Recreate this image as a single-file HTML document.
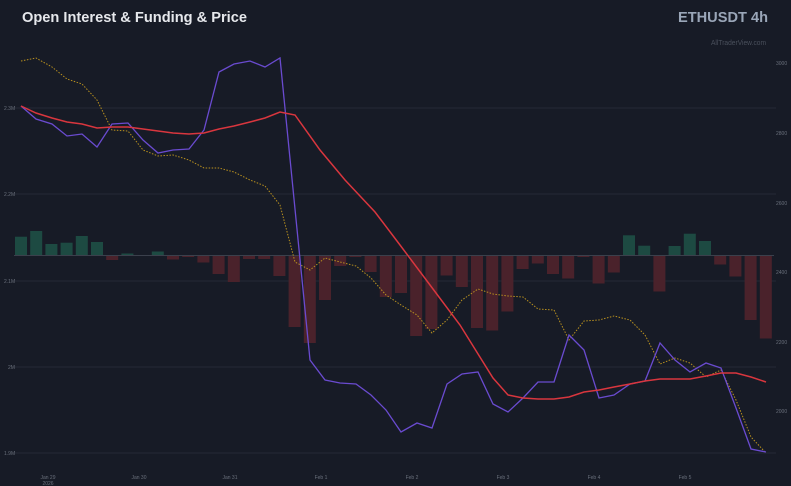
<!DOCTYPE html>
<html><head><meta charset="utf-8"><style>
html,body{margin:0;padding:0;background:#171b26;}
svg{display:block;font-family:"Liberation Sans",sans-serif;}
</style></head><body>
<svg width="791" height="486" viewBox="0 0 791 486" xmlns="http://www.w3.org/2000/svg">
<rect width="791" height="486" fill="#171b26"/>
<text x="22" y="22" font-size="15" font-weight="bold" fill="#e6e8ec" textLength="225" lengthAdjust="spacingAndGlyphs">Open Interest &amp; Funding &amp; Price</text>
<text x="678" y="22" font-size="15" font-weight="bold" fill="#9aa6b8" textLength="90" lengthAdjust="spacingAndGlyphs">ETHUSDT 4h</text>
<text x="711" y="45" font-size="7" fill="#4a505c" textLength="55" lengthAdjust="spacingAndGlyphs">AllTraderView.com</text>
<g stroke="#252a35" stroke-width="1">
<line x1="14" y1="108" x2="776" y2="108"/><line x1="14" y1="194" x2="776" y2="194"/>
<line x1="14" y1="281" x2="776" y2="281"/><line x1="14" y1="367" x2="776" y2="367"/>
<line x1="14" y1="453" x2="776" y2="453"/>
</g>
<g font-size="5" fill="#6a707c">
<text x="4" y="110">2.3M</text><text x="4" y="196">2.2M</text><text x="4" y="283">2.1M</text>
<text x="8" y="369">2M</text><text x="4" y="455">1.9M</text>
<text x="776" y="65">3000</text><text x="776" y="135">2800</text><text x="776" y="205">2600</text>
<text x="776" y="274">2400</text><text x="776" y="344">2200</text><text x="776" y="413">2000</text>
</g>
<g font-size="5" fill="#6a707c" text-anchor="middle">
<text x="48" y="479">Jan 29</text><text x="48" y="485">2026</text>
<text x="139" y="479">Jan 30</text><text x="230" y="479">Jan 31</text><text x="321" y="479">Feb 1</text>
<text x="412" y="479">Feb 2</text><text x="503" y="479">Feb 3</text><text x="594" y="479">Feb 4</text><text x="685" y="479">Feb 5</text>
</g>
<g fill="#1d4a42">
<rect x="15" y="236.7" width="12" height="18.8"/><rect x="30.2" y="231" width="12" height="24.5"/>
<rect x="45.4" y="244" width="12" height="11.5"/><rect x="60.6" y="242.7" width="12" height="12.8"/>
<rect x="75.8" y="236" width="12" height="19.5"/><rect x="91" y="242" width="12" height="13.5"/>
<rect x="121.4" y="253.5" width="12" height="2"/><rect x="151.8" y="251.5" width="12" height="4"/>
<rect x="623" y="235.3" width="12" height="20.2"/><rect x="638.2" y="245.7" width="12" height="9.8"/>
<rect x="668.6" y="246" width="12" height="9.5"/><rect x="683.8" y="233.7" width="12" height="21.8"/>
<rect x="699" y="241" width="12" height="14.5"/>
</g>
<g fill="#4a222b">
<rect x="106.2" y="255.5" width="12" height="4.5"/><rect x="167" y="255.5" width="12" height="4"/>
<rect x="182.2" y="255.5" width="12" height="1.5"/><rect x="197.4" y="255.5" width="12" height="7"/>
<rect x="212.6" y="255.5" width="12" height="18.5"/><rect x="227.8" y="255.5" width="12" height="26.5"/>
<rect x="243" y="255.5" width="12" height="3.5"/><rect x="258.2" y="255.5" width="12" height="3.5"/>
<rect x="273.4" y="255.5" width="12" height="20.5"/><rect x="288.6" y="255.5" width="12" height="71.5"/>
<rect x="303.8" y="255.5" width="12" height="87.5"/><rect x="319" y="255.5" width="12" height="44.5"/>
<rect x="334.2" y="255.5" width="12" height="10.5"/><rect x="349.4" y="255.5" width="12" height="1.5"/>
<rect x="364.6" y="255.5" width="12" height="16.5"/><rect x="379.8" y="255.5" width="12" height="41.5"/>
<rect x="395" y="255.5" width="12" height="37.5"/><rect x="410.2" y="255.5" width="12" height="80.5"/>
<rect x="425.4" y="255.5" width="12" height="73.5"/><rect x="440.6" y="255.5" width="12" height="20"/>
<rect x="455.8" y="255.5" width="12" height="31.5"/><rect x="471" y="255.5" width="12" height="72.5"/>
<rect x="486.2" y="255.5" width="12" height="75"/><rect x="501.4" y="255.5" width="12" height="56"/>
<rect x="516.6" y="255.5" width="12" height="13.5"/><rect x="531.8" y="255.5" width="12" height="8"/>
<rect x="547" y="255.5" width="12" height="18.5"/><rect x="562.2" y="255.5" width="12" height="23"/>
<rect x="577.4" y="255.5" width="12" height="1.5"/><rect x="592.6" y="255.5" width="12" height="28"/>
<rect x="607.8" y="255.5" width="12" height="17"/><rect x="653.4" y="255.5" width="12" height="36"/>
<rect x="714.2" y="255.5" width="12" height="9"/><rect x="729.4" y="255.5" width="12" height="21"/>
<rect x="744.6" y="255.5" width="12" height="64.5"/><rect x="759.8" y="255.5" width="12" height="83"/>
</g>
<line x1="14" y1="255.5" x2="774" y2="255.5" stroke="#3b404c" stroke-width="1"/>
<polyline fill="none" stroke="#b8901f" stroke-width="1" stroke-dasharray="1.5,1.5" points="21,61 36,58 52,67 67,79 82,84 97,100 112,130 128,131 143,150 158,156 173,155 189,160 204,168 219,168 234,172 250,180 265,186 280,205 295,262 310,270 325,258 340,262 356,266 371,278 386,295 401,305 417,315 432,333 447,320 462,300 478,289 493,294 508,296 523,297 538,309 554,310 569,340 584,321 599,320 614,316 630,320 645,335 660,364 675,358 690,363 706,377 721,370 736,400 751,437 766,453"/>
<polyline fill="none" stroke="#6a4bd0" stroke-width="1.3" points="21,106 36,119 52,124 67,136 82,134 97,147 112,124 128,123 143,140 158,153 173,150 189,149 204,130 219,72 234,64 250,61 265,67 280,58 310,360 325,380 340,383 356,384 371,395 386,410 401,432 417,423 432,428 447,384 462,374 478,372 493,404 508,412 523,398 538,382 554,382 569,335 584,350 599,398 614,395 630,384 645,381 660,343 675,360 690,372 706,363 721,368 736,408 751,449 766,452"/>
<polyline fill="none" stroke="#d9363e" stroke-width="1.5" points="21,106 36,113 52,118 67,122 82,124 97,128 112,127 128,127 143,129 158,131 173,133 189,134 204,133 219,129 234,126 250,122 265,118 280,112 295,115 320,150 345,180 375,212 400,245 430,285 460,325 493,378 508,395 523,398 538,399 554,399 569,397 584,392 599,390 614,387 630,384 645,381 660,379 675,379 690,379 706,376 721,373 736,373 751,377 766,382"/>
</svg>
</body></html>
